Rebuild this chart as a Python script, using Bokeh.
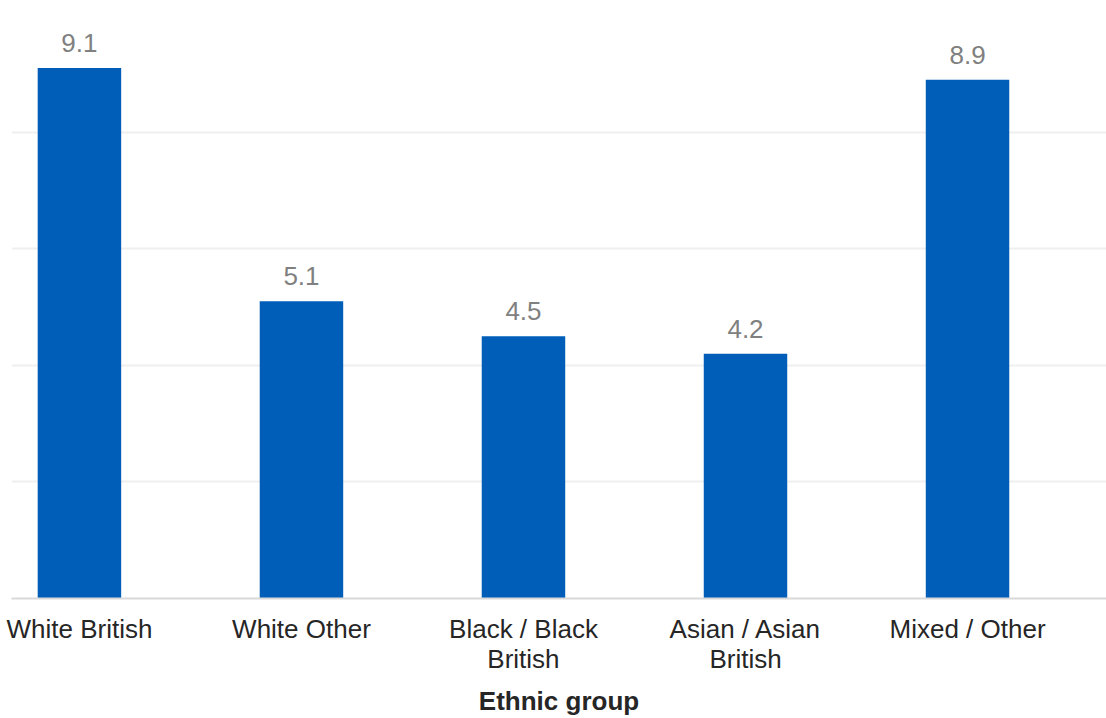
from bokeh.plotting import figure
from bokeh.models import ColumnDataSource, Range1d, FixedTicker
from bokeh.core.properties import value
from bokeh.embed import file_html
from bokeh.resources import INLINE

# Rate by ethnic group
categories = ["White British", "White Other", "Black / Black\nBritish",
              "Asian / Asian\nBritish", "Mixed / Other"]
rates = [9.1, 5.1, 4.5, 4.2, 8.9]
grid_ticks = [2, 4, 6, 8, 10]

positions = list(range(len(categories)))
source = ColumnDataSource(dict(
    x=positions,
    top=rates,
    label=[f"{v:.1f}" for v in rates],
))

FONT = "Liberation Sans"
BLUE = "#005EB8"

p = figure(
    width=1106, height=718,
    x_range=Range1d(-0.306, 4.626),
    y_range=Range1d(0, 10),
    output_backend="svg",
    toolbar_location=None,
    min_border_left=11, min_border_right=0, min_border_top=15,
    min_border_bottom=0,
    outline_line_color=None,
    background_fill_color="white",
    border_fill_color="white",
)

p.vbar(x="x", top="top", bottom=0, width=0.376, source=source,
       fill_color=BLUE, line_color=None)

p.text(x="x", y="top", text="label", source=source,
       text_align="center", text_baseline="alphabetic", y_offset=-25,
       text_font=value(FONT), text_font_size="26px", text_color="#808080")

# Horizontal grid only; no visible y axis
p.yaxis.visible = False
p.yaxis.ticker = FixedTicker(ticks=grid_ticks)
p.ygrid.ticker = FixedTicker(ticks=grid_ticks)
p.ygrid.grid_line_color = "#efefef"
p.ygrid.grid_line_width = 2
p.xgrid.grid_line_color = None

xa = p.xaxis[0]
xa.ticker = FixedTicker(ticks=positions)
xa.major_label_overrides = {i: c for i, c in enumerate(categories)}
xa.major_tick_line_color = None
xa.minor_tick_line_color = None
xa.axis_line_color = "#d9d9d9"
xa.axis_line_width = 2
xa.major_label_text_font = FONT
xa.major_label_text_font_size = "26px"
xa.major_label_text_color = "#262626"
xa.major_label_text_line_height = 1.0
xa.major_label_standoff = 9
xa.axis_label = "Ethnic group"
xa.axis_label_text_font = FONT
xa.axis_label_text_font_size = "26px"
xa.axis_label_text_font_style = "bold"
xa.axis_label_text_color = "#262626"
xa.axis_label_standoff = 9

open("out.html", "w").write(file_html(p, INLINE))
